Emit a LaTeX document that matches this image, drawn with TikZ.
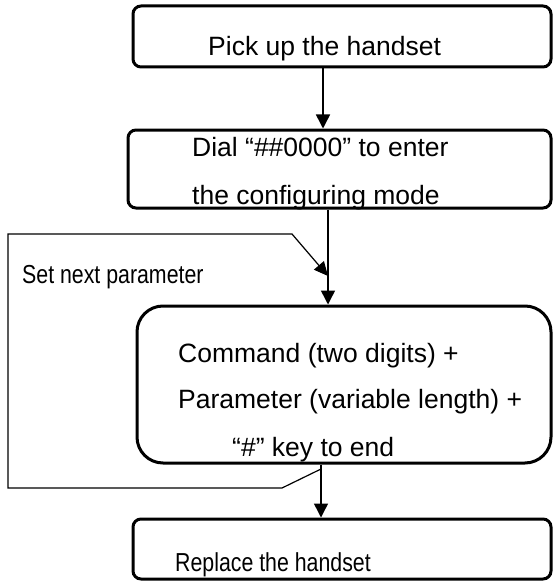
\documentclass[tikz,border=0pt]{standalone}
\usepackage{fontspec}
\setmainfont{Liberation Sans}
\newfontfamily\narrowfont[FakeStretch=0.82]{Liberation Sans}
\usetikzlibrary{arrows.meta}
\tikzset{
  box/.style={draw, line width=3pt, rounded corners=8pt, inner sep=0pt},
  bigbox/.style={box, rounded corners=26pt},
  txt/.style={anchor=base west, inner sep=0pt, font=\fontsize{26.5pt}{30pt}\selectfont},
  ntxt/.style={anchor=base west, inner sep=0pt, font=\narrowfont\fontsize{26pt}{30pt}\selectfont},
  arr/.style={line width=1.5pt, -{Triangle[length=14pt,width=14pt]}},
  fb/.style={line width=1.2pt, -{Triangle[length=14pt,width=13pt]}}
}
\begin{document}
\begin{tikzpicture}[x=1pt,y=-1pt]
\useasboundingbox (0,0) rectangle (553,583);
% boxes
\node[box, minimum width=418pt, minimum height=61pt] (b1) at (342,36.5) {};
\node[box, minimum width=423pt, minimum height=78pt] (b2) at (339.5,169) {};
\node[bigbox, minimum width=414pt, minimum height=157pt] (b3) at (344,384.5) {};
\node[box, minimum width=418pt, minimum height=60pt] (b4) at (342,549) {};
% texts
\node[txt] (t1) at (208,56) {Pick up the handset};
\node[txt] (t2) at (192,156) {Dial “\#\#0000” to enter};
\node[txt] (t3) at (192,204) {the configuring mode};
\node[txt] (t4) at (178,362) {Command (two digits) +};
\node[txt] (t5) at (178,408) {Parameter (variable length) +};
\node[txt] (t6) at (232,456) {“\#” key to end};
\node[ntxt] (t7) at (22,283) {Set next parameter};
\node[ntxt] (t8) at (175,571) {Replace the handset};
% arrow columns
\coordinate (a1) at (323,0);
\coordinate (a2) at (328,0);
\coordinate (a3) at (321,0);
\draw[arr] (b1.south -| a1) -- (b2.north -| a1);
\draw[arr] (b2.south -| a2) -- (b3.north -| a2);
\draw[arr] (b3.south -| a3) -- (b4.north -| a3);
% feedback loop
\coordinate (f0) at (321,469);
\coordinate (f1) at (282,488);
\coordinate (f2) at (8,488);
\coordinate (f3) at (8,234);
\coordinate (f4) at (292,234);
\coordinate (f5) at (328,276);
\draw[fb] (f0) -- (f1) -- (f2) -- (f3) -- (f4) -- (f5);
\end{tikzpicture}
\end{document}
